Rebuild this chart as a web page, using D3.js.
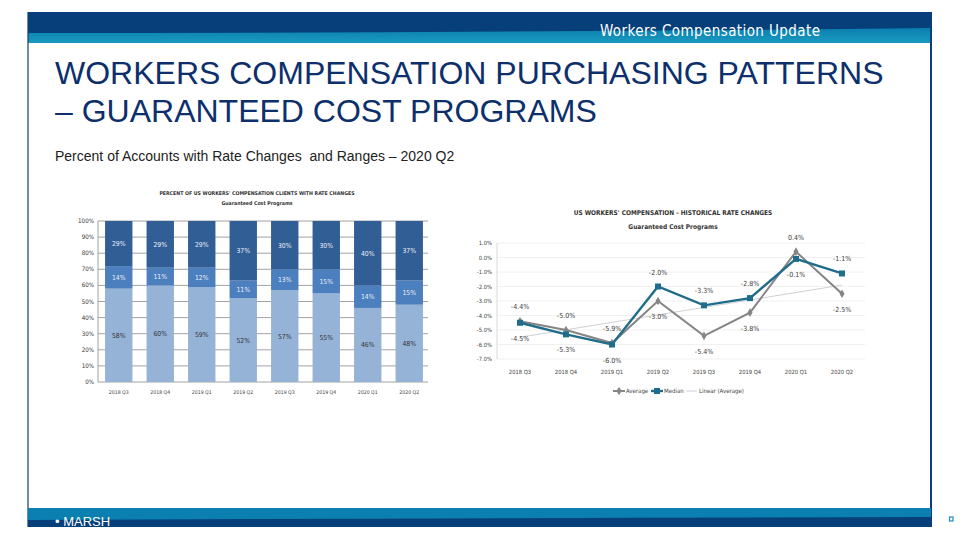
<!DOCTYPE html>
<html>
<head>
<meta charset="utf-8">
<script src="https://d3js.org/d3.v7.min.js"></script>
<style>
  body { margin: 0; background: #fff; }
  svg { display: block; }
  .narrow { font-family: "Liberation Sans Narrow", "DejaVu Sans Condensed", "Liberation Sans", sans-serif; }
</style>
</head>
<body>
<svg width="960" height="540"></svg>
<script>
// ---- data ----
var quarters = ["2018 Q3", "2018 Q4", "2019 Q1", "2019 Q2", "2019 Q3", "2019 Q4", "2020 Q1", "2020 Q2"];

// stacked bar (percent of accounts)
var shareLow  = [58, 60, 59, 52, 57, 55, 46, 48];
var shareMid  = [14, 11, 12, 11, 13, 15, 14, 15];
var shareHigh = [29, 29, 29, 37, 30, 30, 40, 37];
var barTicks = [0, 10, 20, 30, 40, 50, 60, 70, 80, 90, 100];

// line chart (rate change, %)
var rateAverage = [-4.4, -5.0, -5.9, -3.0, -5.4, -3.8, 0.4, -2.5];
var rateMedian  = [-4.5, -5.3, -6.0, -2.0, -3.3, -2.8, -0.1, -1.1];
var trendAverage = [-5.5, -1.9]; // Linear (Average), first and last quarter
var lineTicks = [1, 0, -1, -2, -3, -4, -5, -6, -7];

var svg = d3.select("svg");
function pct(d) { return d.toFixed(1) + "%"; }

// ---- slide frame ----
var L = 28, R = 931;
svg.append("rect").attr("x", L).attr("y", 12).attr("width", R - L).attr("height", 31).attr("fill", "#063f7a");
var grad = svg.append("defs").append("linearGradient").attr("id", "teal").attr("x1", 0).attr("y1", 0).attr("x2", 0).attr("y2", 1);
grad.append("stop").attr("offset", "0%").attr("stop-color", "#0a7fae");
grad.append("stop").attr("offset", "100%").attr("stop-color", "#1a9ac0");
svg.append("path")
  .attr("d", "M" + L + ",33 Q480,33 " + R + ",28 L" + R + ",43 L" + L + ",43 Z")
  .attr("fill", "url(#teal)");
svg.append("line").attr("x1", L).attr("x2", L).attr("y1", 12).attr("y2", 527).attr("stroke", "#063f7a").attr("stroke-width", 1.2);
svg.append("line").attr("x1", R).attr("x2", R).attr("y1", 12).attr("y2", 527).attr("stroke", "#063f7a").attr("stroke-width", 2);

svg.append("rect").attr("x", L).attr("y", 508).attr("width", R - L).attr("height", 19).attr("fill", "#063f7a");
svg.append("path")
  .attr("d", "M" + L + ",508 L" + R + ",508 L" + R + ",517 Q480,518 " + L + ",520 Z")
  .attr("fill", "#0b7fb0");
svg.append("rect").attr("x", 949.5).attr("y", 517).attr("width", 3.5).attr("height", 4)
  .attr("fill", "none").attr("stroke", "#1a8ec0").attr("stroke-width", 1.2);

svg.append("text").attr("class", "narrow").attr("x", 600).attr("y", 36)
  .attr("fill", "#fff").attr("font-size", 15).attr("textLength", 220).text("Workers Compensation Update");
svg.append("text").attr("x", 55).attr("y", 526).attr("fill", "#fff")
  .attr("font-family", "Liberation Sans, Arial, sans-serif").attr("font-size", 13).text("\u2022 MARSH");

// ---- titles ----
var title = svg.append("text").attr("font-family", "Liberation Sans, Arial, sans-serif")
  .attr("font-size", 32).attr("fill", "#0d2f6c");
title.append("tspan").attr("x", 55).attr("y", 84).text("WORKERS COMPENSATION PURCHASING PATTERNS");
title.append("tspan").attr("x", 55).attr("y", 122).text("\u2013 GUARANTEED COST PROGRAMS");
svg.append("text").attr("x", 55).attr("y", 161).attr("font-family", "Liberation Sans, Arial, sans-serif")
  .attr("font-size", 14).attr("fill", "#222").style("white-space", "pre")
  .text("Percent of Accounts with Rate Changes  and Ranges \u2013 2020 Q2");

// ---- left chart: stacked bars ----
var bx = d3.scaleBand().domain(quarters).range([98, 430]).paddingInner(0.34).paddingOuter(0.17);
var by = d3.scaleLinear().domain([0, 100]).range([382, 221]).clamp(true);
var gl = svg.append("g").attr("class", "narrow");

gl.append("text").attr("x", 257).attr("y", 195).attr("text-anchor", "middle").attr("font-size", 5.2)
  .attr("font-weight", "bold").attr("fill", "#333").text("PERCENT OF US WORKERS' COMPENSATION CLIENTS WITH RATE CHANGES");
gl.append("text").attr("x", 257).attr("y", 205).attr("text-anchor", "middle").attr("font-size", 5.2)
  .attr("font-weight", "bold").attr("fill", "#333").text("Guaranteed Cost Programs");

gl.append("g").selectAll("line").data(barTicks).enter().append("line")
  .attr("x1", 98).attr("x2", 428).attr("y1", function(d) { return by(d); }).attr("y2", function(d) { return by(d); })
  .attr("stroke", "#8a8a8a").attr("stroke-width", 0.8);
gl.append("line").attr("x1", 98).attr("x2", 98).attr("y1", 221).attr("y2", 382).attr("stroke", "#8a8a8a").attr("stroke-width", 0.8);
gl.append("g").selectAll("text").data(barTicks).enter().append("text")
  .attr("x", 94).attr("y", function(d) { return by(d) + 2; }).attr("text-anchor", "end")
  .attr("font-size", 6.2).attr("fill", "#333").text(function(d) { return d + "%"; });

var rows = quarters.map(function(q, i) { return { q: q, low: shareLow[i], mid: shareMid[i], high: shareHigh[i] }; });
var stack = d3.stack().keys(["low", "mid", "high"])(rows);
var barColor = { low: "#95b3d7", mid: "#4c7fbe", high: "#325e96" };
var labColor = { low: "#333", mid: "#e8eef8", high: "#e8eef8" };

stack.forEach(function(layer) {
  var g = gl.append("g");
  g.selectAll("rect").data(layer).enter().append("rect")
    .attr("x", function(d) { return bx(d.data.q); })
    .attr("width", bx.bandwidth())
    .attr("y", function(d) { return by(d[1]); })
    .attr("height", function(d) { return by(d[0]) - by(d[1]); })
    .attr("fill", barColor[layer.key]);
  g.selectAll("text").data(layer).enter().append("text")
    .attr("x", function(d) { return bx(d.data.q) + bx.bandwidth() / 2; })
    .attr("y", function(d) { return (by(d[0]) + by(d[1])) / 2 + 2.5; })
    .attr("text-anchor", "middle").attr("font-size", 6.8).attr("fill", labColor[layer.key])
    .text(function(d) { return d.data[layer.key] + "%"; });
});

gl.append("g").selectAll("text").data(quarters).enter().append("text")
  .attr("x", function(d) { return bx(d) + bx.bandwidth() / 2; }).attr("y", 394)
  .attr("text-anchor", "middle").attr("font-size", 5.2).attr("fill", "#444").text(function(d) { return d; });

// ---- right chart: lines ----
var lx = d3.scalePoint().domain(quarters).range([520, 842]);
var ly = d3.scaleLinear().domain([-7, 1]).range([359, 243]);
var gr = svg.append("g").attr("class", "narrow");

gr.append("text").attr("x", 673).attr("y", 215).attr("text-anchor", "middle").attr("font-size", 6.5)
  .attr("font-weight", "bold").attr("fill", "#333").text("US WORKERS' COMPENSATION - HISTORICAL RATE CHANGES");
gr.append("text").attr("x", 673).attr("y", 229).attr("text-anchor", "middle").attr("font-size", 6.5)
  .attr("font-weight", "bold").attr("fill", "#333").text("Guaranteed Cost Programs");

gr.append("g").selectAll("line").data(lineTicks).enter().append("line")
  .attr("x1", 497).attr("x2", 865).attr("y1", function(d) { return ly(d); }).attr("y2", function(d) { return ly(d); })
  .attr("stroke", "#ececec").attr("stroke-width", 0.8);
gr.append("line").attr("x1", 497).attr("x2", 497).attr("y1", 243).attr("y2", 359).attr("stroke", "#cfcfcf").attr("stroke-width", 0.8);
gr.append("g").selectAll("text").data(lineTicks).enter().append("text")
  .attr("x", 492).attr("y", function(d) { return ly(d) + 2; }).attr("text-anchor", "end")
  .attr("font-size", 5.8).attr("fill", "#444").text(pct);

gr.append("g").selectAll("text").data(quarters).enter().append("text")
  .attr("x", function(d) { return lx(d); }).attr("y", 374)
  .attr("text-anchor", "middle").attr("font-size", 5.8).attr("fill", "#444").text(function(d) { return d; });

// trend line
gr.append("line")
  .attr("x1", lx(quarters[0])).attr("y1", ly(trendAverage[0]))
  .attr("x2", lx(quarters[quarters.length - 1])).attr("y2", ly(trendAverage[1]))
  .attr("stroke", "#c9ccd3").attr("stroke-width", 0.9);

var line = d3.line().x(function(d, i) { return lx(quarters[i]); }).y(function(d) { return ly(d); });
gr.append("path").datum(rateAverage).attr("d", line).attr("fill", "none").attr("stroke", "#858585").attr("stroke-width", 2);
gr.append("path").datum(rateMedian).attr("d", line).attr("fill", "none").attr("stroke", "#1f6c8b").attr("stroke-width", 2.4);

var diamond = d3.symbol().type(d3.symbolDiamond).size(22);
gr.append("g").selectAll("path").data(rateAverage).enter().append("path")
  .attr("d", diamond).attr("fill", "#858585")
  .attr("transform", function(d, i) { return "translate(" + lx(quarters[i]) + "," + ly(d) + ")"; });
gr.append("g").selectAll("rect").data(rateMedian).enter().append("rect")
  .attr("x", function(d, i) { return lx(quarters[i]) - 3; }).attr("y", function(d) { return ly(d) - 3; })
  .attr("width", 6).attr("height", 6).attr("fill", "#1f6c8b");

// data labels: the higher value of each quarter above, the lower below
function addLabels(vals, other) {
  gr.append("g").selectAll("text").data(vals).enter().append("text")
    .attr("x", function(d, i) { return lx(quarters[i]); })
    .attr("y", function(d, i) { return d >= other[i] ? ly(d) - 12 : ly(d) + 18; })
    .attr("text-anchor", "middle").attr("font-size", 7).attr("fill", "#404040")
    .text(pct);
}
addLabels(rateAverage, rateMedian);
addLabels(rateMedian, rateAverage);

// legend
var leg = gr.append("g").attr("font-size", 6).attr("fill", "#444");
leg.append("line").attr("x1", 613).attr("x2", 625).attr("y1", 391).attr("y2", 391).attr("stroke", "#858585").attr("stroke-width", 2);
leg.append("path").attr("d", diamond).attr("fill", "#858585").attr("transform", "translate(619,391)");
leg.append("text").attr("x", 626).attr("y", 393).text("Average");
leg.append("line").attr("x1", 651).attr("x2", 663).attr("y1", 391).attr("y2", 391).attr("stroke", "#1f6c8b").attr("stroke-width", 2.4);
leg.append("rect").attr("x", 654).attr("y", 388).attr("width", 6).attr("height", 6).attr("fill", "#1f6c8b");
leg.append("text").attr("x", 664).attr("y", 393).text("Median");
leg.append("line").attr("x1", 686).attr("x2", 697).attr("y1", 391).attr("y2", 391).attr("stroke", "#c9ccd3").attr("stroke-width", 0.9);
leg.append("text").attr("x", 699).attr("y", 393).text("Linear (Average)");
</script>
</body>
</html>
